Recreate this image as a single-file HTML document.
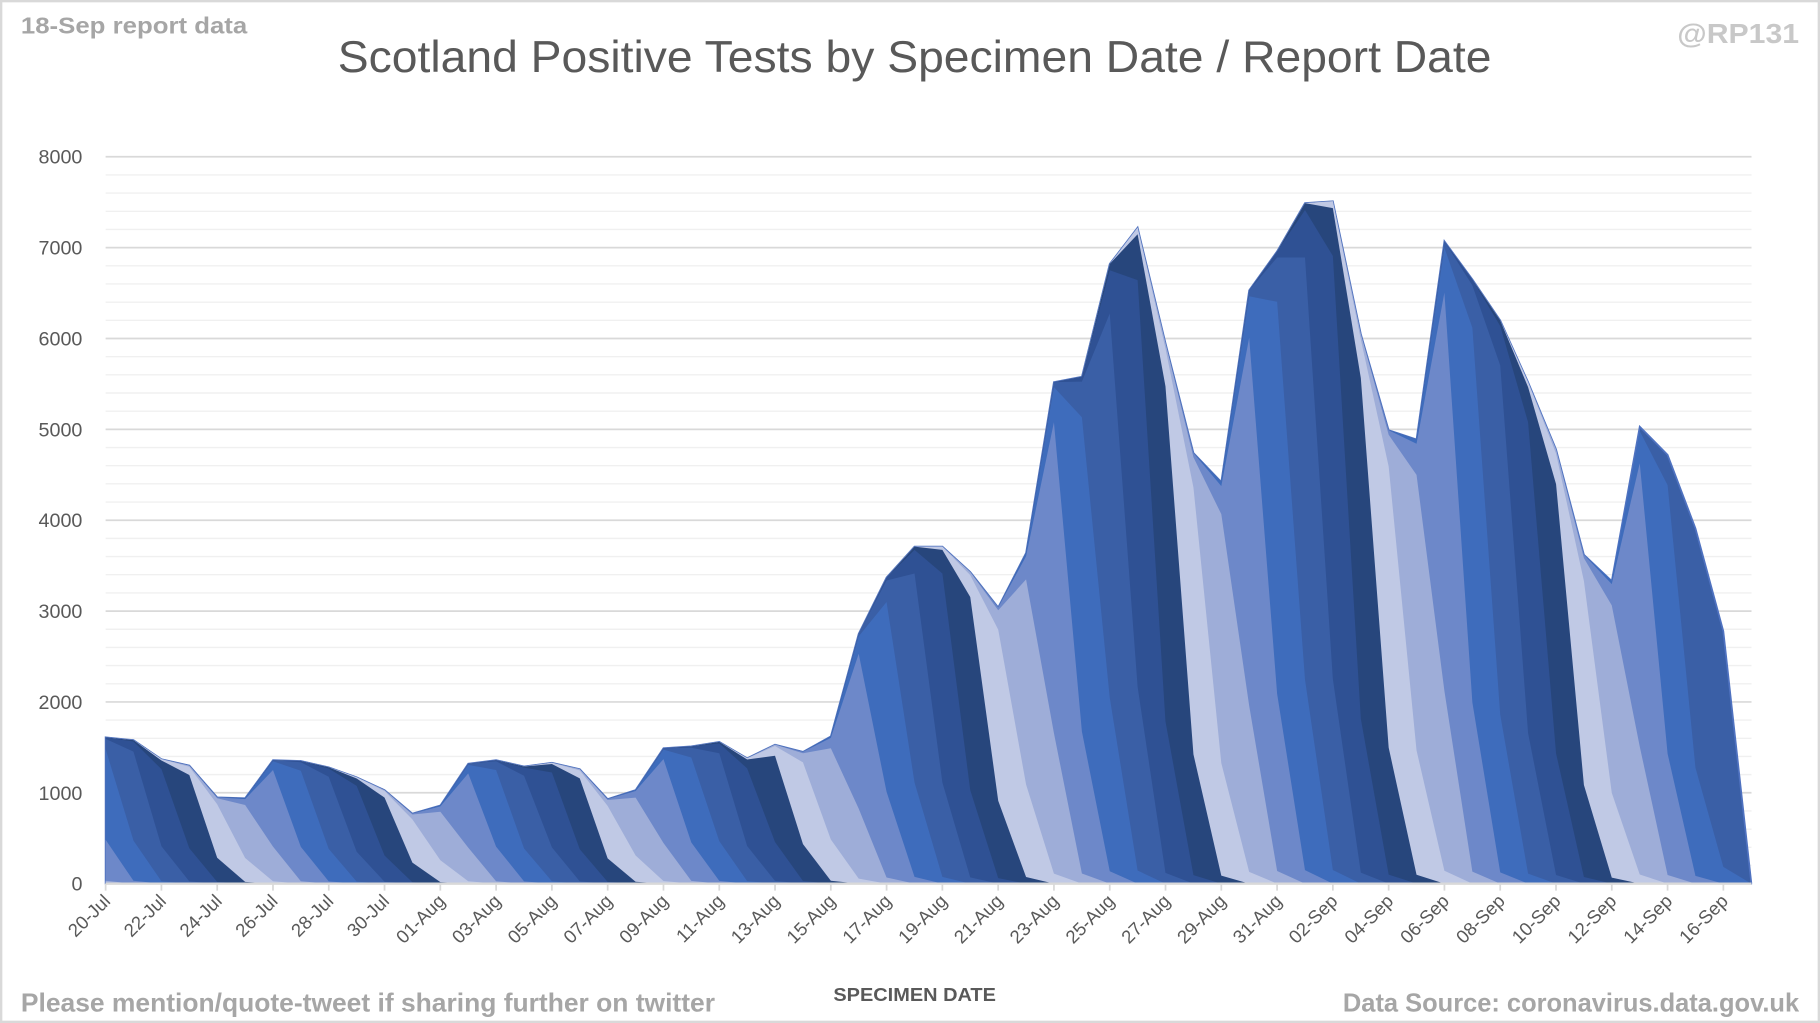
<!DOCTYPE html>
<html><head><meta charset="utf-8"><style>
html,body{margin:0;padding:0;background:#fff;}
svg{display:block;}
text{font-family:"Liberation Sans",sans-serif;}
</style></head><body>
<svg id="c" width="1820" height="1023" viewBox="0 0 1568 881" preserveAspectRatio="none" xmlns="http://www.w3.org/2000/svg">
<rect x="1" y="1" width="1566" height="879" fill="#fff" stroke="#d9d9d9" stroke-width="2"/>
<g id="grid"></g>
<g id="areas"></g>
<g id="axes"></g>
<text x="788" y="62" text-anchor="middle" font-size="38" fill="#595959" textLength="994" lengthAdjust="spacingAndGlyphs">Scotland Positive Tests by Specimen Date / Report Date</text>
<text x="18" y="29" font-size="20" font-weight="bold" fill="#a6a6a6" textLength="195" lengthAdjust="spacingAndGlyphs">18-Sep report data</text>
<text x="1550" y="37" text-anchor="end" font-size="24" font-weight="bold" fill="#c8c8c8" textLength="105" lengthAdjust="spacingAndGlyphs">@RP131</text>
<text x="18" y="871" font-size="22" font-weight="bold" fill="#a6a6a6" textLength="598" lengthAdjust="spacingAndGlyphs">Please mention/quote-tweet if sharing further on twitter</text>
<text x="788" y="862" text-anchor="middle" font-size="16" font-weight="bold" fill="#595959" textLength="140" lengthAdjust="spacingAndGlyphs">SPECIMEN DATE</text>
<text x="1550" y="871" text-anchor="end" font-size="22" font-weight="bold" fill="#a6a6a6" textLength="393" lengthAdjust="spacingAndGlyphs">Data Source: coronavirus.data.gov.uk</text>
</svg>
<script>
var NS="http://www.w3.org/2000/svg";
function el(p,t,a,txt){var e=document.createElementNS(NS,t);for(var k in a)e.setAttribute(k,a[k]);if(txt!==undefined)e.textContent=txt;p.appendChild(e);return e;}
var x0=91,dx=24.03,y0=761,sy=626/8000;
function X(i){return x0+dx*i;} function Y(v){return y0-v*sy;}
var grid=document.getElementById('grid'),areas=document.getElementById('areas'),axes=document.getElementById('axes');
for(var v=200;v<=8000;v+=200){var maj=v%1000==0;el(grid,'line',{x1:91,x2:1509,y1:Y(v),y2:Y(v),stroke:maj?'#d9d9d9':'#f0f0f0','stroke-width':maj?1.5:1.2});}
for(var v=0;v<=8000;v+=1000){el(axes,'text',{x:71,y:Y(v)+6,'text-anchor':'end','font-size':17,fill:'#595959'},String(v));}
var obs=[1610,1580,1370,1300,950,940,1360,1350,1280,1170,1030,770,860,1320,1360,1290,1330,1260,930,1030,1490,1510,1560,1380,1530,1450,1620,2750,3370,3710,3710,3430,3040,3640,5520,5580,6820,7220,5950,4740,4420,6530,6960,7490,7510,6050,4990,4890,7070,6650,6200,5520,4780,3620,3330,5030,4720,3910,2780,10];
var N=obs.length,RM=60;
var G=[0,0.02,0.3,0.92,0.99,1];
function g(k){return k<0?0:(k>=G.length?1:G[k]);}
function cum(d,R){var den=g(RM-d);if(den<=0)return 0;return obs[d]*Math.min(1,g(R-d)/den);}
var cols=['#c0c9e5','#9eadd8','#6d88c9','#3e6cbc','#3a5fa6','#2f5194','#27467c'];
for(var R=RM;R>=-6;R--){
  var pts=[X(0)+','+y0];
  for(var d=0;d<N;d++){pts.push(X(d).toFixed(1)+','+Y(cum(d,R)).toFixed(1));}
  pts.push(X(N-1)+','+y0);
  var ci=((R)%7+7)%7;
  el(areas,'polygon',{points:pts.join(' '),fill:cols[ci],stroke:R==RM?'#4f72c0':'none','stroke-width':1.5});
}
el(axes,'line',{x1:91,x2:1509,y1:y0,y2:y0,stroke:'#d9d9d9','stroke-width':2});
var labs=['20-Jul','22-Jul','24-Jul','26-Jul','28-Jul','30-Jul','01-Aug','03-Aug','05-Aug','07-Aug','09-Aug','11-Aug','13-Aug','15-Aug','17-Aug','19-Aug','21-Aug','23-Aug','25-Aug','27-Aug','29-Aug','31-Aug','02-Sep','04-Sep','06-Sep','08-Sep','10-Sep','12-Sep','14-Sep','16-Sep'];
for(var i=0;i<labs.length;i++){var x=X(2*i);
 el(axes,'line',{x1:x,x2:x,y1:y0,y2:y0+6,stroke:'#d9d9d9','stroke-width':1.5});
 el(axes,'text',{x:x+5,y:y0+16,'text-anchor':'end','font-size':16,fill:'#595959',transform:'rotate(-45 '+(x+5)+' '+(y0+16)+')'},labs[i]);}
</script>
</body></html>
